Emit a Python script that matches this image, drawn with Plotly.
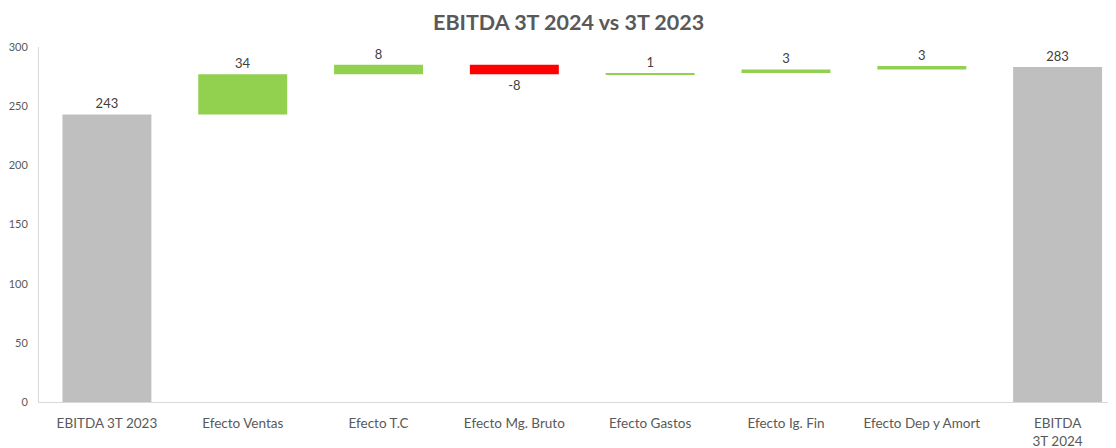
import plotly.graph_objects as go

categories = ["EBITDA 3T 2023", "Efecto Ventas", "Efecto T.C", "Efecto Mg. Bruto",
              "Efecto Gastos", "Efecto Ig. Fin", "Efecto Dep y Amort", "EBITDA<br>3T 2024"]
measures = ["absolute", "relative", "relative", "relative", "relative", "relative", "relative", "absolute"]
values = [243, 34, 8, -8, 1, 3, 3, 283]
labels = ["243", "34", "8", "-8", "1", "3", "3", "283"]
y_ticks = [0, 50, 100, 150, 200, 250, 300]

FONT = "Lato, Carlito, Calibri, sans-serif"

fig = go.Figure(go.Waterfall(
    x=categories,
    y=values,
    measure=measures,
    text=labels,
    textposition="outside",
    textfont=dict(family=FONT, size=13, color="#404040"),
    increasing=dict(marker=dict(color="#92D050")),
    decreasing=dict(marker=dict(color="#FF0000")),
    totals=dict(marker=dict(color="#BFBFBF")),
    connector=dict(visible=False),
    cliponaxis=False,
))

# page body has an 8px default margin, so the figure is sized/offset to compensate
fig.update_layout(
    width=1108, height=440,
    margin=dict(l=31, r=0, t=39, b=46, autoexpand=False),
    paper_bgcolor="white", plot_bgcolor="white",
    waterfallgap=0.345,
    showlegend=False,
    title=dict(text="<b>EBITDA 3T 2024 vs 3T 2023</b>", x=0.506, xref="container",
               y=0.968, yref="container", xanchor="center", yanchor="middle",
               font=dict(family=FONT, size=21.5, color="#595959")),
    xaxis=dict(range=[-0.5, 7.43], showgrid=False, showline=True, linecolor="#D9D9D9",
               linewidth=1, ticks="", ticklabelstandoff=9,
               tickfont=dict(family=FONT, size=13.5, color="#595959"),
               fixedrange=True, automargin=False),
    yaxis=dict(range=[0, 300], tickvals=y_ticks, showgrid=False, showline=True,
               linecolor="#D9D9D9", linewidth=1, ticks="", zeroline=False,
               ticklabelstandoff=8, automargin=False,
               tickfont=dict(family=FONT, size=11, color="#595959"), fixedrange=True),
)

fig.write_html("out.html")
